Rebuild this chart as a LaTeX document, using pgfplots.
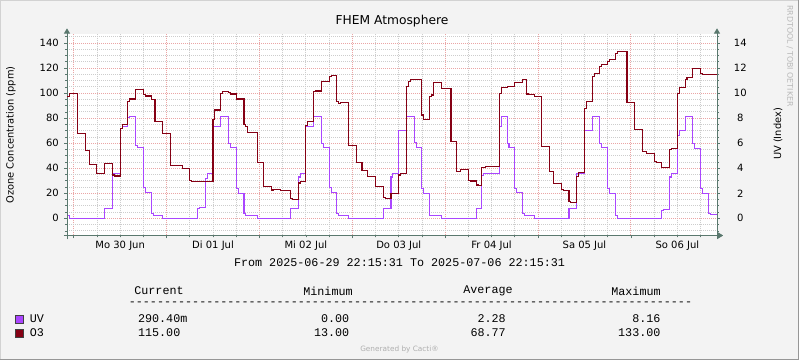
\documentclass[border=0pt]{standalone}
\usepackage{fontspec}
\setmainfont{DejaVu Sans}
\setmonofont{Liberation Mono}
\usepackage{pgfplots}
\pgfplotsset{compat=1.18}
\usetikzlibrary{arrows.meta}

\definecolor{bgc}{RGB}{243,243,243}
\definecolor{axc}{RGB}{90,120,110}
\definecolor{mgrid}{RGB}{235,165,165}
\definecolor{gridc}{RGB}{205,205,205}
\definecolor{o3c}{RGB}{133,0,20}
\definecolor{uvc}{RGB}{170,70,255}
\definecolor{lightframe}{RGB}{210,210,210}
\definecolor{darkframe}{RGB}{150,150,150}

\pgfplotsset{
  common/.style={
    scale only axis, width=487.5pt, height=151.5pt,
    at={(50.25pt,93.375pt)}, anchor=south west,
    xmin=-1.742, xmax=166.258,
    axis x line*=bottom,
    xtick={0,24,48,72,96,120,144}, xticklabels={},
    minor xtick={6,12,18,30,36,42,54,60,66,78,84,90,102,108,114,126,132,138,150,156,162},
    tick align=outside,
    major tick length=2pt, minor tick length=1.5pt,
    tick style={axc, line width=0.5pt},
    axis line style={axc, line width=0.75pt},
    x axis line style={-{Triangle[length=4pt,width=4.5pt]}, shorten <=-2.4pt, shorten >=-4.5pt},
    y axis line style={-{Triangle[length=4pt,width=4.5pt]}, shorten <=-3pt, shorten >=-3.9pt},
    tick label style={font=\fontsize{7.5}{9}\selectfont},
    /pgf/number format/assume math mode=true,
    clip=true,
  },
  lgrid/.style={line width=0.6pt, dash pattern=on 0.75pt off 0.75pt},
}

\begin{document}
\begin{tikzpicture}[x=0.75pt,y=0.75pt]
\useasboundingbox (0,0) rectangle (799,360);
\fill[bgc] (0,0) rectangle (799,360);
\draw[lightframe, line width=0.75pt] (0.5,0) -- (0.5,359.5) -- (799,359.5);
\draw[darkframe, line width=0.75pt] (0,0.5) -- (798.5,0.5) -- (798.5,360);

% UV axis (right scale) with background and grid
\begin{axis}[common,
  ymin=-1.37, ymax=14.76,
  axis background/.style={fill=white},
  axis y line*=right,
  ytick={0,2,...,14},
  minor ytick={-1,-0.5,0.5,1,1.5,2.5,3,3.5,4.5,5,5.5,6.5,7,7.5,8.5,9,9.5,10.5,11,11.5,12.5,13,13.5,14.5},
  grid=both,
  major grid style={mgrid, lgrid},
  minor grid style={gridc, lgrid},
  extra x ticks={12,36,60,84,108,132,156},
  extra x tick labels={Mo 30 Jun, Di 01 Jul, Mi 02 Jul, Do 03 Jul, Fr 04 Jul, Sa 05 Jul, So 06 Jul},
  extra x tick style={grid=none, major tick length=0pt,
     xticklabel style={anchor=north, inner sep=0pt, yshift=-4.1pt}},
  yticklabel style={anchor=center, inner sep=0pt, xshift=15.5pt},
]
\addplot[const plot, uvc, line width=0.8pt] coordinates {
(-1.742,0.2) (-1,0) (8,0.8) (10,3.55) (10.5,3.6) (12,7.2) (12.5,7.3) (14,8.06) (14.5,8.16)
(16,5.85) (16.5,5.65) (18,2.45) (18.5,2.05) (20,0.35) (20.5,0.26) (23,0)
(32,0.8) (32.5,0.85) (34,3.2) (34.5,3.6) (36,7.3) (38,8.1) (38.5,8.16) (40,6.0) (40.5,5.65)
(42,2.4) (42.5,2.0) (44,0.4) (44.5,0.26) (47.5,0)
(56,0.8) (58,3.3) (58.5,3.6) (60,7.3) (62,8.1) (62.5,8.16) (64,6.0) (64.5,5.65)
(66,2.45) (66.5,2.1) (68,0.4) (68.5,0.26) (71,0)
(80,0.8) (82,3.3) (82.5,3.6) (84,7.0) (86,8.1) (86.5,8.16) (88,6.05) (88.5,5.65)
(90,2.4) (90.5,2.0) (92,0.26) (95,0)
(104,0.75) (105.5,3.45) (106,3.6) (110,7.3) (110.5,8.16) (112,6.0) (112.5,5.65)
(114,2.4) (114.5,2.05) (116,0.4) (116.5,0.26) (119,0)
(128,0.75) (130,3.6) (132,7.0) (134,8.1) (134.5,8.16) (136,6.0) (136.5,5.65)
(138,2.4) (138.5,2.0) (140,0.26) (140.5,0)
(152,0.66) (152.5,0.73) (154,3.3) (154.5,3.6) (156,6.65) (156.5,7.0) (158,8.1) (158.5,8.16)
(160,6.0) (160.5,5.6) (162,2.4) (162.5,2.0) (164,0.4) (164.5,0.29) (166.258,0.29)
};
\end{axis}

% O3 axis (left scale)
\begin{axis}[common,
  ymin=-13.7, ymax=147.6,
  axis y line*=left,
  ytick={0,20,...,140},
  minor ytick={-10,-5,5,10,15,25,30,35,45,50,55,65,70,75,85,90,95,105,110,115,125,130,135,145},
  yticklabel style={anchor=east, inner sep=0pt, xshift=-4pt},
]
\addplot[const plot, o3c, line width=0.8pt] coordinates {
(-1.742,97) (-1,100) (1,68) (3,54) (4,43) (6,36) (8,44) (10,34.6) (10.5,33.8)
(12,72) (12.5,75) (14,93) (14.5,95.3) (16,102.7) (18,99) (18.5,97.7) (20,94.8) (21,77.3) (23,68)
(25,42) (28,39.7) (30,30.4) (30.5,29.7) (34.5,29.3)
(36,79) (36.5,86.5) (38,99.8) (38.5,101.2) (40,100.6) (40.5,99.3) (42,95.3) (44,75.3) (44.5,73.2) (45,68.9)
(47.5,44.7) (49,25.5) (51,22.3) (51.5,22.9) (53.5,22.3) (56,16) (56.5,14.9) (58,28.2) (58.5,29.3)
(60,74.5) (60.5,77.5) (62,101) (62.5,101.7) (64,109) (66,113.1) (66.5,114) (68,93.5) (68.5,91.5) (69,92.8)
(71,58) (73,44.4) (74.5,38.3) (76,33.5) (78,25.4) (80,16.5) (80.5,16) (82,20)
(84,34.6) (84.5,35.9) (86,105) (86.5,109.6) (87,111) (90,82.5) (90.5,79) (92,97) (92.5,98.5) (93,108.3)
(95,103.8) (97.5,61.7) (99,37.2) (100,39.1) (102,30.3) (102.5,29.8) (104,26.6) (104.5,26.1)
(105.5,40.4) (106.5,41.2) (110,99.8) (110.5,104.6) (112,105.1) (114,108.6) (116,110.5) (116.5,111)
(117,99.3) (117.5,99) (119,97.6) (121,57.2) (123,37.3) (124,28) (126,23.4) (126.5,22.6) (128,13.8) (128.5,13)
(130,33.2) (130.5,36.3) (132,87.8) (132.5,93.2) (134,113.1) (134.5,115.5) (136,121.1) (136.5,122.5)
(138,125.6) (138.5,126.5) (140,131.5) (140.5,133) (143,92.8) (145,71) (147,53.2) (148,51.5)
(150,45.2) (150.5,44.4) (152,40.8) (154,54.6) (154.5,55.4) (156,99.8) (156.5,104.6) (158,111) (158.5,112.5)
(160,119.8) (162,115.8) (162.5,115) (166.258,115)
};
\end{axis}

% titles and labels
\node[inner sep=0pt, font=\fontsize{9.2}{11}\selectfont] at (392,339) {FHEM Atmosphere};
\node[inner sep=0pt, rotate=90, font=\fontsize{7.4}{9}\selectfont] at (11,225) {Ozone Concentration (ppm)};
\node[inner sep=0pt, rotate=90, font=\fontsize{7.4}{9}\selectfont] at (778,226) {UV (Index)};
\node[inner sep=0pt, rotate=-90, text={rgb,255:red,185;green,185;blue,185}, font=\fontsize{5.9}{7}\selectfont] at (790,304) {RRDTOOL / TOBI OETIKER};

% legend area
\begin{scope}[font=\ttfamily\fontsize{8.8}{10}\selectfont, every node/.style={inner sep=0pt}]
\node at (399.5,97) {From 2025-06-29 22:15:31 To 2025-07-06 22:15:31};
\node at (159,69) {Current};
\node at (328,69) {Minimum};
\node at (488,69) {Average};
\node at (636,69) {Maximum};
\node[anchor=west] at (128.6,56) {--------------------------------------------------------------------------------};
\filldraw[fill=uvc, draw=black!75, line width=0.6pt] (15.5,36.5) rectangle (23.5,44.5);
\filldraw[fill=o3c, draw=black!75, line width=0.6pt] (15.5,23) rectangle (23.5,31);
\node[anchor=west] at (29.6,41) {UV};
\node[anchor=west] at (137.8,41) {290.40m};
\node[anchor=east] at (349.5,41) {0.00};
\node[anchor=east] at (506,41) {2.28};
\node[anchor=east] at (660.7,41) {8.16};
\node[anchor=west] at (29.6,27.3) {O3};
\node[anchor=west] at (137.8,27.3) {115.00};
\node[anchor=east] at (349.5,27.3) {13.00};
\node[anchor=east] at (506,27.3) {68.77};
\node[anchor=east] at (660.7,27.3) {133.00};
\end{scope}
\node[inner sep=0pt, text={rgb,255:red,175;green,175;blue,175}, font=\fontsize{5.5}{6}\selectfont] at (399.5,11) {Generated by Cacti\textregistered};
\end{tikzpicture}
\end{document}
